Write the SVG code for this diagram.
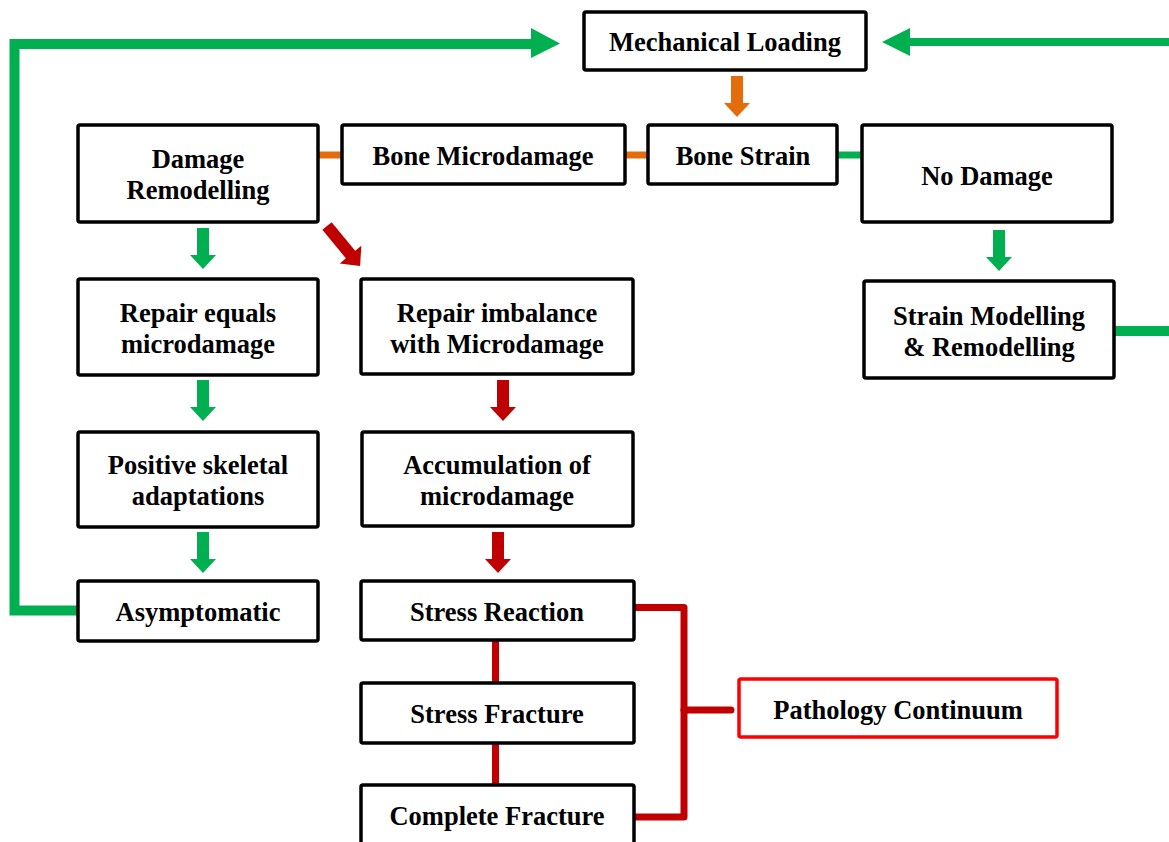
<svg xmlns="http://www.w3.org/2000/svg" width="1169" height="842" viewBox="0 0 1169 842">
<style>
.box{fill:#fff;stroke:#000;stroke-width:3.5}
.pbox{fill:#fff;stroke:#FF0000;stroke-width:3.5}
text{font-family:"Liberation Serif","Times New Roman",serif;font-weight:bold;font-size:26.5px;fill:#000;text-anchor:middle}
.g{fill:#00B050}
.o{fill:#E46C0A}
.r{fill:#C00000}
.gl{stroke:#00B050;fill:none}
.rl{stroke:#C00000;fill:none;stroke-width:7}
.ol{stroke:#E46C0A;stroke-width:7}
</style>
<defs>
<path id="darrow" d="M-6,0 H6 V27 H13 L0,41 L-13,27 H-6 Z"/>
</defs>
<g id="connectors">
<path class="gl" stroke-width="10" d="M79,610.5 H14.5 V44 H532"/>
<polygon class="g" points="531,28 560,43.5 531,58"/>
<path class="gl" stroke-width="8" d="M1169,42 H908"/>
<polygon class="g" points="910,28 882,42 910,56"/>
<path class="gl" stroke-width="10" d="M1114,331 H1169"/>
<use href="#darrow" class="o" x="737" y="76"/>
<line class="ol" x1="318" y1="155" x2="342" y2="155"/>
<line class="ol" x1="625" y1="155" x2="648" y2="155"/>
<line stroke="#00B050" stroke-width="7" x1="838" y1="155" x2="862" y2="155"/>
<use href="#darrow" class="g" x="203" y="228"/>
<use href="#darrow" class="g" x="203" y="380"/>
<use href="#darrow" class="g" x="203" y="532"/>
<use href="#darrow" class="g" x="999" y="230"/>
<g transform="translate(327,226) rotate(-39.5)"><path class="r" d="M-6,0 H6 V37 H14 L0,52 L-14,37 H-6 Z"/></g>
<use href="#darrow" class="r" x="503" y="380"/>
<use href="#darrow" class="r" x="498" y="532"/>
<line class="rl" x1="495.5" y1="640" x2="495.5" y2="683"/>
<line class="rl" x1="495.5" y1="743" x2="495.5" y2="785"/>
<path class="rl" stroke-linejoin="round" d="M634,607.5 H684 V817 H634"/>
<path class="rl" stroke-linecap="round" d="M684,710 H731"/>
</g>
<g id="n-mech"><rect class="box" x="584" y="12" width="282" height="58" rx="2"/><text x="725" y="51">Mechanical Loading</text></g>
<g id="n-damrem"><rect class="box" x="78" y="125" width="240" height="97" rx="2"/><text x="198" y="168">Damage</text><text x="198" y="199">Remodelling</text></g>
<g id="n-microdamage"><rect class="box" x="342" y="125" width="283" height="59" rx="2"/><text x="483" y="165">Bone Microdamage</text></g>
<g id="n-strain"><rect class="box" x="648" y="125" width="189" height="59" rx="2"/><text x="743" y="165">Bone Strain</text></g>
<g id="n-nodamage"><rect class="box" x="862" y="125" width="250" height="97" rx="2"/><text x="987" y="185">No Damage</text></g>
<g id="n-repeq"><rect class="box" x="78" y="279" width="240" height="96" rx="2"/><text x="198" y="322">Repair equals</text><text x="198" y="353">microdamage</text></g>
<g id="n-repimb"><rect class="box" x="361" y="279" width="272" height="95" rx="2"/><text x="497" y="322">Repair imbalance</text><text x="497" y="353">with Microdamage</text></g>
<g id="n-strainmod"><rect class="box" x="864" y="281" width="250" height="97" rx="2"/><text x="989" y="325">Strain Modelling</text><text x="989" y="356">&amp; Remodelling</text></g>
<g id="n-positive"><rect class="box" x="78" y="432" width="240" height="95" rx="2"/><text x="198" y="474">Positive skeletal</text><text x="198" y="505">adaptations</text></g>
<g id="n-accum"><rect class="box" x="362" y="432" width="271" height="94" rx="2"/><text x="497" y="474">Accumulation of</text><text x="497" y="505">microdamage</text></g>
<g id="n-asym"><rect class="box" x="78" y="581" width="240" height="60" rx="2"/><text x="198" y="621">Asymptomatic</text></g>
<g id="n-sreact"><rect class="box" x="361" y="581" width="273" height="59" rx="2"/><text x="497" y="621">Stress Reaction</text></g>
<g id="n-sfrac"><rect class="box" x="361" y="683" width="273" height="60" rx="2"/><text x="497" y="723">Stress Fracture</text></g>
<g id="n-cfrac"><rect class="box" x="361" y="785" width="273" height="62" rx="2"/><text x="497" y="825">Complete Fracture</text></g>
<g id="n-patho"><rect class="pbox" x="739" y="679" width="318" height="58" rx="2"/><text x="898" y="719">Pathology Continuum</text></g>
</svg>
